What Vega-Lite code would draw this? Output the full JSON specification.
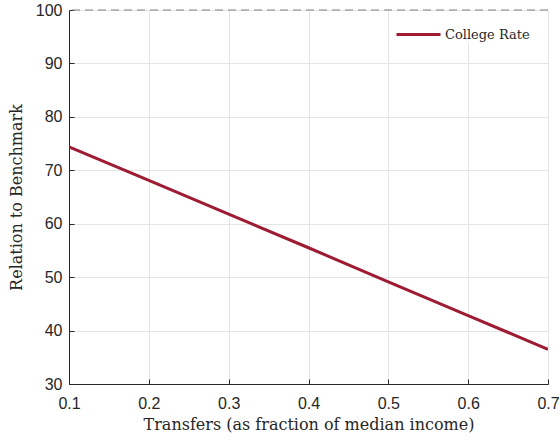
{
  "$schema": "https://vega.github.io/schema/vega-lite/v6.json",
  "width": 479,
  "height": 374,
  "autosize": {"type": "none"},
  "padding": {"left": 69, "top": 10, "right": 12, "bottom": 57},
  "background": "white",
  "config": {
    "view": {"stroke": null},
    "axis": {
      "domainColor": "#262626",
      "domainWidth": 1,
      "tickColor": "#262626",
      "tickSize": -5,
      "gridColor": "#e5e5e5",
      "gridWidth": 1,
      "labelFont": "Liberation Sans",
      "labelFontSize": 16,
      "labelColor": "#262626",
      "titleFont": "DejaVu Serif",
      "titleFontSize": 16,
      "titleFontWeight": "normal",
      "titleColor": "#262626"
    }
  },
  "datasets": {
    "series": [
      {"transfer": 0.1, "rate": 74.4, "series": "College Rate"},
      {"transfer": 0.2, "rate": 68.1, "series": "College Rate"},
      {"transfer": 0.3, "rate": 61.8, "series": "College Rate"},
      {"transfer": 0.4, "rate": 55.5, "series": "College Rate"},
      {"transfer": 0.5, "rate": 49.1, "series": "College Rate"},
      {"transfer": 0.6, "rate": 42.8, "series": "College Rate"},
      {"transfer": 0.7, "rate": 36.5, "series": "College Rate"}
    ],
    "benchmark": [{"level": 100}]
  },
  "layer": [
    {
      "data": {"name": "series"},
      "mark": {"type": "line", "strokeWidth": 3, "clip": true},
      "encoding": {
        "x": {
          "field": "transfer", "type": "quantitative",
          "scale": {"domain": [0.1, 0.7], "nice": false, "zero": false},
          "axis": {
            "title": "Transfers (as fraction of median income)",
            "values": [0.1, 0.2, 0.3, 0.4, 0.5, 0.6, 0.7],
            "format": ".1f",
            "labelPadding": 16,
            "titlePadding": 5,
            "labelFlush": false
          }
        },
        "y": {
          "field": "rate", "type": "quantitative",
          "scale": {"domain": [30, 100], "nice": false, "zero": false},
          "axis": {
            "title": "Relation to Benchmark",
            "values": [30, 40, 50, 60, 70, 80, 90, 100],
            "labelPadding": 12,
            "titlePadding": 11,
            "labelFlush": false
          }
        },
        "color": {
          "field": "series", "type": "nominal",
          "scale": {"range": ["#9e1b34"]},
          "legend": {
            "title": null,
            "orient": "none",
            "legendX": 326,
            "legendY": 1,
            "padding": 0,
            "fillColor": "white",
            "strokeColor": "white",
            "symbolType": "stroke",
            "symbolSize": 1936,
            "symbolStrokeWidth": 3,
            "labelFont": "DejaVu Serif",
            "labelFontSize": 13,
            "labelColor": "#262626",
            "labelOffset": 3
          }
        }
      }
    },
    {
      "data": {"name": "benchmark"},
      "mark": {"type": "rule", "color": "#7f7f7f", "strokeWidth": 1, "strokeDash": [8, 5]},
      "encoding": {
        "y": {"field": "level", "type": "quantitative"}
      }
    }
  ]
}
